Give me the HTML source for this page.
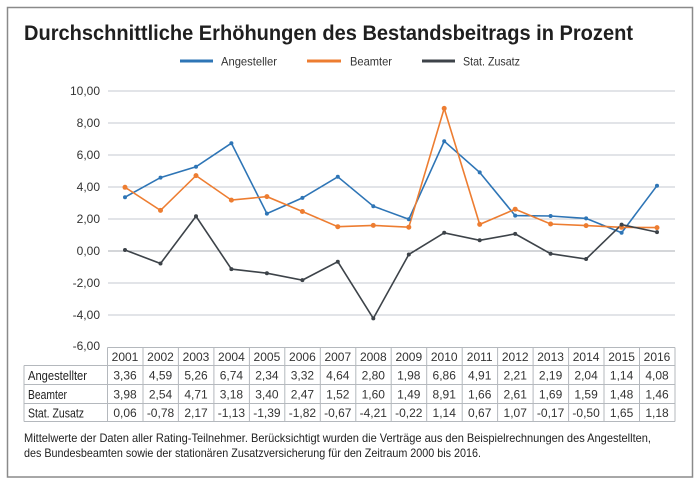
<!DOCTYPE html>
<html><head><meta charset="utf-8"><style>
html,body{margin:0;padding:0;background:#fff;}
svg{display:block;font-family:"Liberation Sans",sans-serif;}
</style></head><body>
<svg width="700" height="484" viewBox="0 0 700 484" xmlns="http://www.w3.org/2000/svg">
<rect x="7.5" y="7.5" width="685" height="469.5" fill="#fff" stroke="#8a8a8a" stroke-width="1.5"/>
<text x="24" y="40" font-size="21" font-weight="bold" fill="#1f1f1f" textLength="609" lengthAdjust="spacingAndGlyphs">Durchschnittliche Erhöhungen des Bestandsbeitrags in Prozent</text>
<g font-size="12" fill="#333">
<line x1="180" y1="61" x2="213" y2="61" stroke="#2e75b6" stroke-width="3"/>
<text x="221" y="65.5" textLength="56" lengthAdjust="spacingAndGlyphs">Angesteller</text>
<line x1="307" y1="61" x2="341" y2="61" stroke="#ed7d31" stroke-width="3"/>
<text x="350" y="65.5" textLength="42" lengthAdjust="spacingAndGlyphs">Beamter</text>
<line x1="422" y1="61" x2="455" y2="61" stroke="#3d4349" stroke-width="3"/>
<text x="463" y="65.5" textLength="57" lengthAdjust="spacingAndGlyphs">Stat. Zusatz</text>
</g>
<g stroke="#c5cad0" stroke-width="1">
<line x1="108" y1="91" x2="675" y2="91"/><line x1="108" y1="123" x2="675" y2="123"/>
<line x1="108" y1="155" x2="675" y2="155"/><line x1="108" y1="187" x2="675" y2="187"/>
<line x1="108" y1="219" x2="675" y2="219"/><line x1="108" y1="251" x2="675" y2="251" stroke="#a8adb3"/>
<line x1="108" y1="283" x2="675" y2="283"/><line x1="108" y1="315" x2="675" y2="315"/>
</g>
<g font-size="12" fill="#333" text-anchor="end">
<text x="100" y="95">10,00</text><text x="100" y="127">8,00</text><text x="100" y="159">6,00</text>
<text x="100" y="191">4,00</text><text x="100" y="223">2,00</text><text x="100" y="255">0,00</text>
<text x="100" y="287">-2,00</text><text x="100" y="319">-4,00</text><text x="100" y="350">-6,00</text>
</g>
<g id="series" fill="none" stroke-width="1.6">
<polyline stroke="#2e75b6" points="125,197.2 160.5,177.6 196,166.8 231.4,143.2 266.9,213.6 302.4,197.9 337.8,176.8 373.3,206.2 408.8,219.3 444.2,141.2 479.7,172.4 515.2,215.6 550.6,216 586.1,218.4 621.6,232.8 657,185.7"/>
<polyline stroke="#ed7d31" points="125,187.3 160.5,210.4 196,175.6 231.4,200.1 266.9,196.6 302.4,211.5 337.8,226.7 373.3,225.4 408.8,227.2 444.2,108.4 479.7,224.4 515.2,209.2 550.6,224 586.1,225.6 621.6,227.3 657,227.6"/>
<polyline stroke="#3d4349" points="125,250 160.5,263.5 196,216.3 231.4,269.1 266.9,273.2 302.4,280.1 337.8,261.7 373.3,318.4 408.8,254.5 444.2,232.8 479.7,240.3 515.2,233.9 550.6,253.7 586.1,259 621.6,224.6 657,232.1"/>
</g>
<g fill="#2e75b6">
<circle cx="125" cy="197.2" r="2"/><circle cx="160.5" cy="177.6" r="2"/><circle cx="196" cy="166.8" r="2"/><circle cx="231.4" cy="143.2" r="2"/><circle cx="266.9" cy="213.6" r="2"/><circle cx="302.4" cy="197.9" r="2"/><circle cx="337.8" cy="176.8" r="2"/><circle cx="373.3" cy="206.2" r="2"/><circle cx="408.8" cy="219.3" r="2"/><circle cx="444.2" cy="141.2" r="2"/><circle cx="479.7" cy="172.4" r="2"/><circle cx="515.2" cy="215.6" r="2"/><circle cx="550.6" cy="216" r="2"/><circle cx="586.1" cy="218.4" r="2"/><circle cx="621.6" cy="232.8" r="2"/><circle cx="657" cy="185.7" r="2"/>
</g>
<g fill="#ed7d31">
<circle cx="125" cy="187.3" r="2.5"/><circle cx="160.5" cy="210.4" r="2.5"/><circle cx="196" cy="175.6" r="2.5"/><circle cx="231.4" cy="200.1" r="2.5"/><circle cx="266.9" cy="196.6" r="2.5"/><circle cx="302.4" cy="211.5" r="2.5"/><circle cx="337.8" cy="226.7" r="2.5"/><circle cx="373.3" cy="225.4" r="2.5"/><circle cx="408.8" cy="227.2" r="2.5"/><circle cx="444.2" cy="108.4" r="2.5"/><circle cx="479.7" cy="224.4" r="2.5"/><circle cx="515.2" cy="209.2" r="2.5"/><circle cx="550.6" cy="224" r="2.5"/><circle cx="586.1" cy="225.6" r="2.5"/><circle cx="621.6" cy="227.3" r="2.5"/><circle cx="657" cy="227.6" r="2.5"/>
</g>
<g fill="#3d4349">
<circle cx="125" cy="250" r="2"/><circle cx="160.5" cy="263.5" r="2"/><circle cx="196" cy="216.3" r="2"/><circle cx="231.4" cy="269.1" r="2"/><circle cx="266.9" cy="273.2" r="2"/><circle cx="302.4" cy="280.1" r="2"/><circle cx="337.8" cy="261.7" r="2"/><circle cx="373.3" cy="318.4" r="2"/><circle cx="408.8" cy="254.5" r="2"/><circle cx="444.2" cy="232.8" r="2"/><circle cx="479.7" cy="240.3" r="2"/><circle cx="515.2" cy="233.9" r="2"/><circle cx="550.6" cy="253.7" r="2"/><circle cx="586.1" cy="259" r="2"/><circle cx="621.6" cy="224.6" r="2"/><circle cx="657" cy="232.1" r="2"/>
</g>
<!-- table -->
<g stroke="#b4b8bd" stroke-width="1" fill="none">
<line x1="107.5" y1="347.5" x2="675" y2="347.5"/>
<line x1="24" y1="365.5" x2="675" y2="365.5"/>
<line x1="24" y1="384.5" x2="675" y2="384.5"/>
<line x1="24" y1="403.5" x2="675" y2="403.5"/>
<line x1="24" y1="421.5" x2="675" y2="421.5"/>
<line x1="24" y1="365.5" x2="24" y2="421.5"/>
<line x1="107.5" y1="347.5" x2="107.5" y2="421.5"/><line x1="143" y1="347.5" x2="143" y2="421.5"/><line x1="178.4" y1="347.5" x2="178.4" y2="421.5"/><line x1="213.9" y1="347.5" x2="213.9" y2="421.5"/><line x1="249.4" y1="347.5" x2="249.4" y2="421.5"/><line x1="284.8" y1="347.5" x2="284.8" y2="421.5"/><line x1="320.3" y1="347.5" x2="320.3" y2="421.5"/><line x1="355.8" y1="347.5" x2="355.8" y2="421.5"/><line x1="391.2" y1="347.5" x2="391.2" y2="421.5"/><line x1="426.7" y1="347.5" x2="426.7" y2="421.5"/><line x1="462.2" y1="347.5" x2="462.2" y2="421.5"/><line x1="497.6" y1="347.5" x2="497.6" y2="421.5"/><line x1="533.1" y1="347.5" x2="533.1" y2="421.5"/><line x1="568.6" y1="347.5" x2="568.6" y2="421.5"/><line x1="604" y1="347.5" x2="604" y2="421.5"/><line x1="639.5" y1="347.5" x2="639.5" y2="421.5"/><line x1="675" y1="347.5" x2="675" y2="421.5"/>
</g>
<g font-size="12" fill="#333" text-anchor="middle">
<g transform="translate(0,361)">
<text x="125">2001</text><text x="160.5">2002</text><text x="196">2003</text><text x="231.4">2004</text><text x="266.9">2005</text><text x="302.4">2006</text><text x="337.8">2007</text><text x="373.3">2008</text><text x="408.8">2009</text><text x="444.2">2010</text><text x="479.7">2011</text><text x="515.2">2012</text><text x="550.6">2013</text><text x="586.1">2014</text><text x="621.6">2015</text><text x="657">2016</text>
</g>
<g transform="translate(0,379.5)">
<text x="125">3,36</text><text x="160.5">4,59</text><text x="196">5,26</text><text x="231.4">6,74</text><text x="266.9">2,34</text><text x="302.4">3,32</text><text x="337.8">4,64</text><text x="373.3">2,80</text><text x="408.8">1,98</text><text x="444.2">6,86</text><text x="479.7">4,91</text><text x="515.2">2,21</text><text x="550.6">2,19</text><text x="586.1">2,04</text><text x="621.6">1,14</text><text x="657">4,08</text>
</g>
<g transform="translate(0,398.5)">
<text x="125">3,98</text><text x="160.5">2,54</text><text x="196">4,71</text><text x="231.4">3,18</text><text x="266.9">3,40</text><text x="302.4">2,47</text><text x="337.8">1,52</text><text x="373.3">1,60</text><text x="408.8">1,49</text><text x="444.2">8,91</text><text x="479.7">1,66</text><text x="515.2">2,61</text><text x="550.6">1,69</text><text x="586.1">1,59</text><text x="621.6">1,48</text><text x="657">1,46</text>
</g>
<g transform="translate(0,417)">
<text x="125">0,06</text><text x="160.5">-0,78</text><text x="196">2,17</text><text x="231.4">-1,13</text><text x="266.9">-1,39</text><text x="302.4">-1,82</text><text x="337.8">-0,67</text><text x="373.3">-4,21</text><text x="408.8">-0,22</text><text x="444.2">1,14</text><text x="479.7">0,67</text><text x="515.2">1,07</text><text x="550.6">-0,17</text><text x="586.1">-0,50</text><text x="621.6">1,65</text><text x="657">1,18</text>
</g>
</g>
<g font-size="12.5" fill="#222">
<text x="28" y="380" textLength="59" lengthAdjust="spacingAndGlyphs">Angestellter</text>
<text x="28" y="399" textLength="39" lengthAdjust="spacingAndGlyphs">Beamter</text>
<text x="28" y="417.5" textLength="56" lengthAdjust="spacingAndGlyphs">Stat. Zusatz</text>
</g>
<g font-size="12" fill="#222">
<text x="24" y="442" textLength="627" lengthAdjust="spacingAndGlyphs">Mittelwerte der Daten aller Rating-Teilnehmer. Berücksichtigt wurden die Verträge aus den Beispielrechnungen des Angestellten,</text>
<text x="24" y="457" textLength="457" lengthAdjust="spacingAndGlyphs">des Bundesbeamten sowie der stationären Zusatzversicherung für den Zeitraum 2000 bis 2016.</text>
</g>
</svg>
</body></html>
